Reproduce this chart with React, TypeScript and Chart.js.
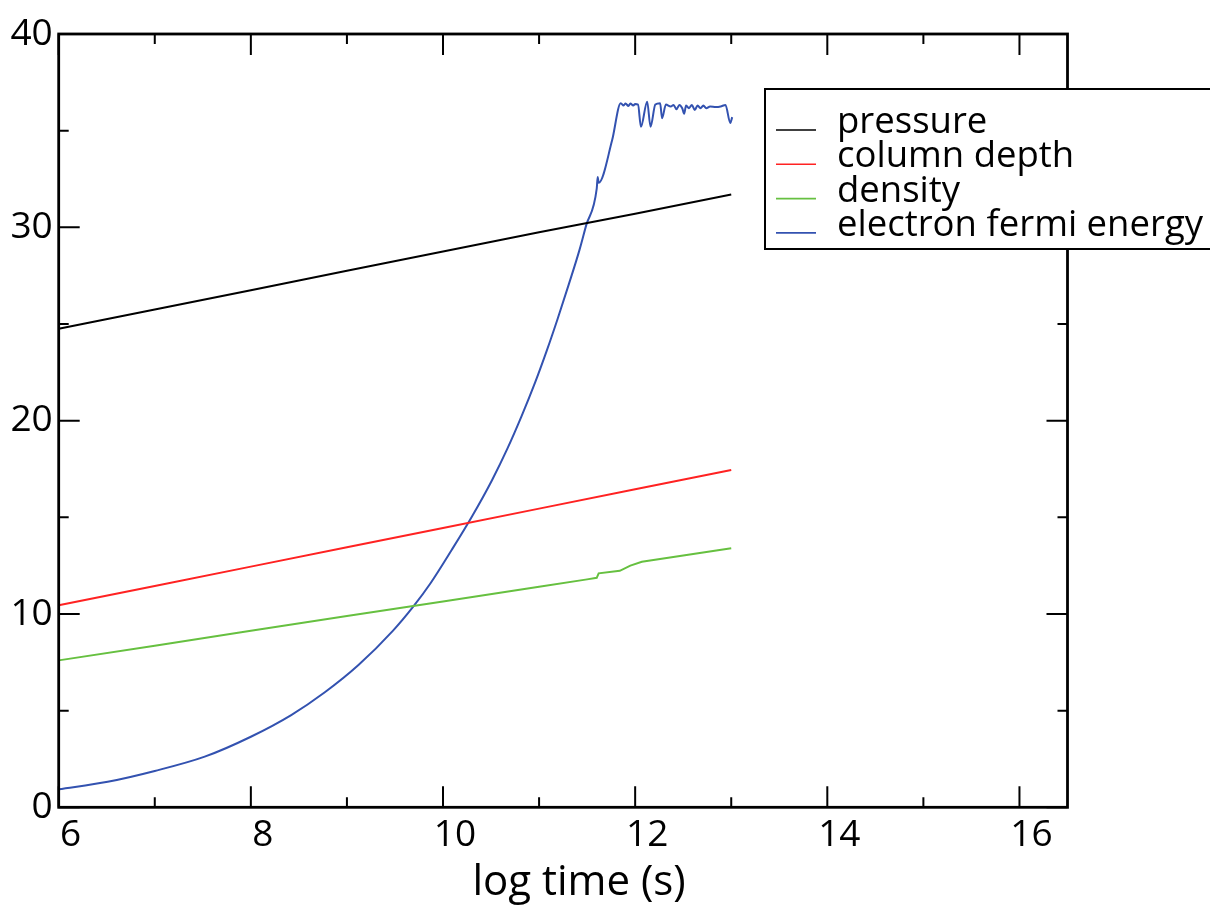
import React, { useEffect, useRef } from "react";
import { Chart, registerables } from "chart.js";

Chart.register(...registerables);

// ---- data ----
const xTicks = [6, 8, 10, 12, 14, 16];
const xMinorTicks = [7, 9, 11, 13, 15];
const yTicks = [0, 10, 20, 30, 40];
const yMinorTicks = [5, 15, 25, 35];

const seriesNames = ["pressure", "column depth", "density", "electron fermi energy"];
const seriesColors = ["#000000", "#ff2222", "#66c040", "#3352b0"];

const pressureX = [6, 7, 8, 9, 10, 11, 12, 13];
const pressureY = [24.75, 25.75, 26.75, 27.75, 28.75, 29.75, 30.7, 31.7];

const columnX = [6, 7, 8, 9, 10, 11, 12, 13];
const columnY = [10.45, 11.45, 12.45, 13.45, 14.45, 15.45, 16.45, 17.45];

const densityX = [6, 7, 8, 9, 10, 11, 11.5, 11.6, 11.62, 11.84, 11.95, 12.07, 13];
const densityY = [7.6, 8.36, 9.13, 9.9, 10.65, 11.41, 11.79, 11.87, 12.1, 12.23, 12.5, 12.7, 13.4];

const fermiX = [
  6, 6.51, 7, 7.52, 8, 8.42, 8.77, 9.12, 9.48, 9.69, 9.87, 10.09, 10.3, 10.51, 10.67, 10.82, 10.96,
  11.08, 11.19, 11.31, 11.42, 11.49, 11.6, 11.61, 11.62, 11.76, 11.85, 11.88, 11.9, 11.93, 11.95,
  11.98, 12.0, 12.03, 12.06, 12.125, 12.16, 12.21, 12.26, 12.28, 12.32, 12.37, 12.4, 12.43,
  12.46, 12.49, 12.51, 12.53, 12.56, 12.59, 12.62, 12.65, 12.68, 12.71, 12.74, 12.78, 12.84,
  12.89, 12.94, 12.99, 13.01,
];
const fermiY = [
  0.93, 1.32, 1.88, 2.62, 3.65, 4.77, 5.95, 7.36, 9.14, 10.38, 11.59, 13.31, 15.03, 16.92, 18.55,
  20.26, 21.99, 23.62, 25.22, 27.06, 28.82, 30.1, 32.0, 32.6, 32.3, 34.5, 36.42, 36.3, 36.4,
  36.28, 36.4, 36.3, 36.38, 36.35, 35.2, 36.5, 35.2, 36.35, 36.42, 35.64, 36.35, 36.25, 36.33,
  36.11, 36.33, 36.16, 35.87, 36.3, 36.16, 36.33, 36.07, 36.3, 36.16, 36.3, 36.16, 36.25, 36.22,
  36.25, 36.33, 35.4, 35.7,
];

const xTitle = "log time (s)";
const FONT = "'Open Sans', 'Noto Sans', sans-serif";

const toPoints = (xs: number[], ys: number[]) => xs.map((x, i) => ({ x, y: ys[i] }));

const framePlugin = {
  id: "frameTicks",
  afterDraw(chart: any) {
    const { ctx, chartArea } = chart;
    const { left, right, top, bottom } = chartArea;
    const xs = chart.scales.x;
    const ys = chart.scales.y;
    const major = 21;
    const minor = 10;
    ctx.save();
    ctx.strokeStyle = "#000";
    ctx.lineWidth = 2;
    ctx.beginPath();
    const xt = (vals: number[], len: number) => {
      vals.forEach((v) => {
        const p = xs.getPixelForValue(v);
        ctx.moveTo(p, bottom);
        ctx.lineTo(p, bottom - len);
        ctx.moveTo(p, top);
        ctx.lineTo(p, top + len);
      });
    };
    const yt = (vals: number[], len: number) => {
      vals.forEach((v) => {
        const p = ys.getPixelForValue(v);
        ctx.moveTo(left, p);
        ctx.lineTo(left + len, p);
        ctx.moveTo(right, p);
        ctx.lineTo(right - len, p);
      });
    };
    xt(xTicks, major);
    xt(xMinorTicks, minor);
    yt(yTicks, major);
    yt(yMinorTicks, minor);
    ctx.stroke();
    ctx.lineWidth = 2.8;
    ctx.strokeRect(left, top, right - left, bottom - top);

    // x axis title (slightly right of centre, as in the original)
    ctx.fillStyle = "#000";
    ctx.font = `42px ${FONT}`;
    ctx.textAlign = "center";
    ctx.textBaseline = "alphabetic";
    ctx.fillText(xTitle, (left + right) / 2 + 16, 895);

    // legend box
    const bx = 765;
    const by = 89;
    const bw = 460;
    const bh = 160;
    ctx.fillStyle = "#fff";
    ctx.fillRect(bx, by, bw, bh);
    ctx.lineWidth = 2;
    ctx.strokeRect(bx, by, bw, bh);
    ctx.font = `36.5px ${FONT}`;
    ctx.textBaseline = "alphabetic";
    ctx.textAlign = "left";
    seriesNames.forEach((name, i) => {
      const base = 133 + i * 34.3;
      ctx.strokeStyle = seriesColors[i];
      ctx.lineWidth = 1.6;
      ctx.beginPath();
      ctx.moveTo(776, base - 3);
      ctx.lineTo(816, base - 3);
      ctx.stroke();
      ctx.fillStyle = "#000";
      ctx.fillText(name, 837, base);
    });
    ctx.restore();
  },
};

export default function App() {
  const ref = useRef<HTMLCanvasElement | null>(null);
  useEffect(() => {
    if (!ref.current) return;
    const data = [
      toPoints(pressureX, pressureY),
      toPoints(columnX, columnY),
      toPoints(densityX, densityY),
      toPoints(fermiX, fermiY),
    ];
    const chart = new Chart(ref.current, {
      type: "line",
      data: {
        datasets: data.map((d, i) => ({
          label: seriesNames[i],
          data: d,
          borderColor: seriesColors[i],
          backgroundColor: seriesColors[i],
          borderWidth: 2,
          pointRadius: 0,
          cubicInterpolationMode: i === 3 ? "monotone" : "default",
          tension: 0,
          fill: false,
        })),
      },
      options: {
        animation: false,
        responsive: false,
        maintainAspectRatio: false,
        layout: { padding: { left: 0, top: 34, right: 142.5, bottom: 0 } },
        plugins: { legend: { display: false }, tooltip: { enabled: false } },
        scales: {
          x: {
            type: "linear",
            min: 6,
            max: 16.5,
            afterBuildTicks: (s: any) => {
              s.ticks = xTicks.map((v) => ({ value: v }));
            },
            afterFit: (s: any) => {
              s.height = 98.7;
            },
            grid: { display: false, drawTicks: false },
            border: { display: false },
            ticks: {
              color: "#000",
              font: { family: FONT, size: 37 },
              padding: 6,
              labelOffset: 12,
              maxRotation: 0,
              autoSkip: false,
            },
          },
          y: {
            type: "linear",
            min: 0,
            max: 40,
            afterBuildTicks: (s: any) => {
              s.ticks = yTicks.map((v) => ({ value: v }));
            },
            afterFit: (s: any) => {
              s.width = 58.7;
            },
            grid: { display: false, drawTicks: false },
            border: { display: false },
            ticks: {
              color: "#000",
              font: { family: FONT, size: 37 },
              padding: 6,
              autoSkip: false,
            },
          },
        },
      },
      plugins: [framePlugin],
    });
    return () => chart.destroy();
  }, []);
  return (
    <div style={{ position: "absolute", left: 0, top: 0, width: 1210, height: 906, background: "#fff" }}>
      <canvas ref={ref} width={1210} height={906} style={{ display: "block" }} />
    </div>
  );
}
